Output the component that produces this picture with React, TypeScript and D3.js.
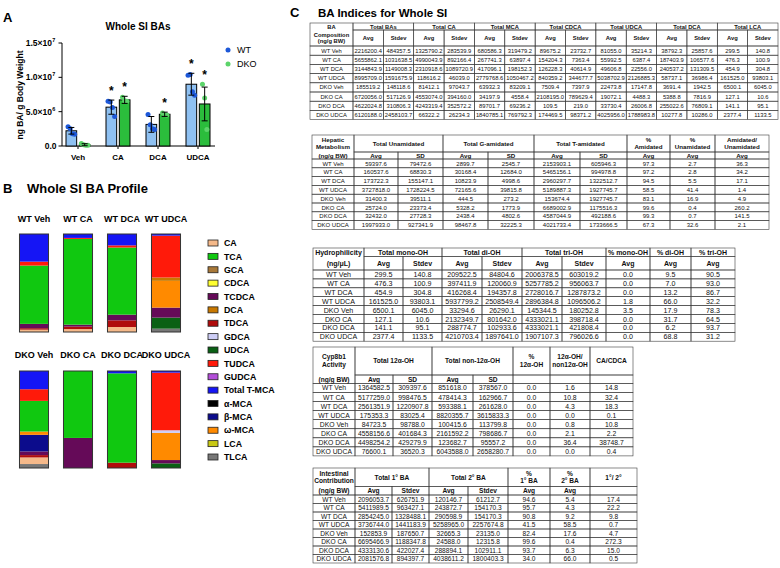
import React from "react";
import * as d3 from "d3";

const FONT = "'Liberation Sans', Arial, Helvetica, sans-serif";

// ---------------- Panel A data ----------------
const groupsA = ["Veh", "CA", "DCA", "UDCA"];
const seriesA = ["WT", "DKO"];
const wtMean = [2.216, 5.656, 3.145, 8.996]; // x1e6 ng/g
const wtSd = [0.484, 1.032, 1.149, 1.592];
const dkoMean = [0.186, 6.72, 4.622, 6.12];
const dkoSd = [0.148, 0.517, 0.311, 2.458];
const wtPts = [
  [2.8, 2.5, 1.8, 1.7],
  [6.5, 6.4, 5.6, 4.3],
  [4.6, 3.1, 2.5, 2.4],
  [10.3, 10.4, 7.9, 7.4],
];
const dkoPts = [
  [0.35, 0.2, 0.1, 0.1],
  [7.1, 6.6, 6.5],
  [4.8, 4.6, 4.5],
  [9.0, 7.0, 2.4],
];
const wtSig = [false, true, false, true];
const dkoSig = [false, true, true, true];
const yTicksA = [0, 5, 10, 15];
const yTickBase = ["0.0", "5.0×10", "1.0×10", "1.5×10"];
const yTickExp = ["", "6", "7", "7"];

// ---------------- Panel B data ----------------
const legendKeys = ["CA", "TCA", "GCA", "CDCA", "TCDCA", "DCA", "TDCA", "GDCA", "UDCA", "TUDCA", "GUDCA", "Total T-MCA", "α-MCA", "β-MCA", "ω-MCA", "LCA", "TLCA"];
const legendColors = ["#f5b98a", "#10c810", "#a87838", "#ffff30", "#650a58", "#c87800", "#b00c0c", "#cdcdf5", "#0a6014", "#ff1a0a", "#b24ed8", "#1515f5", "#000000", "#0c0c8c", "#ff8a00", "#c8c814", "#777777"];
const stackOrder = ["TLCA", "CA", "UDCA", "TDCA", "TCDCA", "β-MCA", "ω-MCA", "DCA", "GDCA", "TCA", "TUDCA", "Total T-MCA"];
const wtSamples = ["WT Veh", "WT CA", "WT DCA", "WT UDCA"];
const dkoSamples = ["DKO Veh", "DKO CA", "DKO DCA", "DKO UDCA"];
const wtProfile = [
  [0, 2.4, 0, 1.5, 4.4, 0, 0, 0, 0, 59.5, 4.0, 28.2],
  [0, 3.0, 0, 2.5, 2.0, 0, 0, 0, 0, 87.5, 1.0, 4.0],
  [0, 5.1, 0, 6.8, 5.8, 0, 0, 0, 0, 68.5, 2.2, 11.6],
  [3.4, 0, 11.3, 0, 10.2, 0, 27.3, 3.4, 0, 0, 42.7, 1.7],
];
const dkoProfile = [
  [4.1, 6.8, 0, 2.4, 3.8, 17.1, 3.4, 0, 0, 31.6, 12.0, 18.8],
  [0, 0, 0, 0, 31.0, 0, 0, 0, 0, 69.0, 0, 0],
  [0, 0, 0, 5.5, 0, 0, 0, 0, 0, 92.1, 0, 2.4],
  [0, 0, 4.8, 0, 3.4, 0, 28.0, 0, 2.7, 0, 59.4, 1.7],
];

// ---------------- Panel C data ----------------
const rowLabels = ["WT Veh", "WT CA", "WT DCA", "WT UDCA", "DKO Veh", "DKO CA", "DKO DCA", "DKO UDCA"];

const t1BAsAvg = ["2216200.4", "5655862.1", "3144843.9", "8995709.0", "185519.2", "6720056.0", "4622024.8", "6120188.0"];
const t1BAsSd = ["484357.5", "1031638.5", "1149008.3", "1591675.9", "148118.6", "517126.9", "310806.3", "2458103.7"];
const t1CAAvg = ["1325790.2", "4990043.9", "2310918.6", "118616.2", "81412.1", "4553074.0", "4243319.4", "66322.2"];
const t1CASd = ["283539.9", "892166.4", "1089720.9", "46039.0", "97043.7", "394160.0", "352572.2", "26234.3"];
const t1MCAAvg = ["680586.3", "267741.3", "417096.1", "2779768.6", "63932.3", "34197.9", "89701.7", "1840785.1"];
const t1MCASd = ["319479.2", "63897.4", "198152.3", "1050467.2", "83209.1", "4558.4", "69236.2", "769792.3"];
const t1CDCAAvg = ["89675.2", "154204.3", "126228.3", "840359.2", "7509.4", "2108195.0", "109.5", "174469.5"];
const t1CDCASd = ["23732.7", "7363.4", "40614.9", "344677.7", "7397.9", "789629.4", "219.0", "98371.2"];
const t1UDCAAvg = ["81055.0", "55992.5", "49606.8", "5038702.9", "22473.8", "19072.1", "33730.4", "4025956.0"];
const t1UDCASd = ["35214.3", "6387.4", "22556.0", "2126885.3", "17147.8", "4488.3", "26006.8", "1788983.8"];
const t1DCAAvg = ["38792.3", "187403.9", "240537.2", "58737.1", "3691.4", "5388.8", "255022.6", "10277.8"];
const t1DCASd = ["25857.6", "106577.6", "131309.5", "36986.4", "1942.5", "7816.9", "76809.1", "10286.0"];
const t1LCAAvg = ["299.5", "476.3", "454.9", "161525.0", "6500.1", "127.1", "141.1", "2377.4"];
const t1LCASd = ["140.8", "100.9", "304.8", "93803.1", "6045.0", "10.6", "95.1", "1133.5"];

const t2UnAvg = ["59397.6", "160537.6", "173722.3", "3727818.0", "31400.3", "25724.0", "32432.0", "1997933.0"];
const t2UnSd = ["79472.6", "68830.3", "155147.1", "1728224.5", "39511.1", "23373.4", "27728.3", "927341.9"];
const t2GAvg = ["2899.7", "30168.4", "10823.9", "72165.6", "444.5", "5328.2", "2438.4", "98467.8"];
const t2GSd = ["2545.7", "12684.0", "4998.6", "39815.8", "273.2", "1773.9", "4802.6", "32225.3"];
const t2TAvg = ["2153903.1", "5465156.1", "2960297.7", "5189887.3", "153674.4", "6689002.9", "4587044.9", "4021733.4"];
const t2TSd = ["605946.3", "994978.8", "1322512.7", "1927745.7", "1927745.7", "1175516.3", "492188.6", "1733666.5"];
const t2PctAm = ["97.3", "97.2", "94.5", "58.5", "83.1", "99.6", "99.3", "67.3"];
const t2PctUn = ["2.7", "2.8", "5.5", "41.4", "16.9", "0.4", "0.7", "32.6"];
const t2Ratio = ["36.3", "34.2", "17.1", "1.4", "4.9", "260.2", "141.5", "2.1"];

const t3MonoAvg = ["299.5", "476.3", "454.9", "161525.0", "6500.1", "127.1", "141.1", "2377.4"];
const t3MonoSd = ["140.8", "100.9", "304.8", "93803.1", "6045.0", "10.6", "95.1", "1133.5"];
const t3DiAvg = ["209522.5", "397411.9", "416268.4", "5937799.2", "33294.6", "2132349.7", "288774.7", "4210703.4"];
const t3DiSd = ["84804.6", "120060.9", "194357.8", "2508549.4", "26290.1", "801642.0", "102933.6", "1897641.0"];
const t3TriAvg = ["2006378.5", "5257785.2", "2728016.7", "2896384.8", "145344.5", "4333021.1", "4333021.1", "1907107.3"];
const t3TriSd = ["603019.2", "956063.7", "1287873.2", "1096506.2", "180252.8", "398718.4", "421808.4", "796026.6"];
const t3PctMono = ["0.0", "0.0", "0.0", "1.8", "3.5", "0.0", "0.0", "0.0"];
const t3PctDi = ["9.5", "7.0", "13.2", "66.0", "17.9", "31.7", "6.2", "68.8"];
const t3PctTri = ["90.5", "93.0", "86.7", "32.2", "78.3", "64.5", "93.7", "31.2"];

const t4TwAvg = ["1364582.5", "5177259.0", "2561351.9", "175353.3", "84723.5", "4558156.6", "4498254.2", "76600.1"];
const t4TwSd = ["309397.6", "998476.5", "1220907.8", "83025.4", "98788.0", "401684.3", "429279.9", "36520.3"];
const t4NonAvg = ["851618.0", "478414.3", "593388.1", "8820355.7", "100415.6", "2161592.2", "123682.7", "6043588.0"];
const t4NonSd = ["378567.0", "162966.7", "261628.0", "3615833.3", "113799.8", "798686.7", "95557.2", "2658280.7"];
const t4Pct = ["0.0", "0.0", "0.0", "0.0", "0.0", "0.0", "0.0", "0.0"];
const t4Ratio = ["1.6", "10.8", "4.3", "0.0", "0.8", "2.1", "36.4", "0.0"];
const t4CaCdca = ["14.8", "32.4", "18.3", "0.1", "10.8", "2.2", "38748.7", "0.4"];

const t5PriAvg = ["2096053.7", "5411989.5", "2854245.0", "3736744.0", "152853.9", "6695466.9", "4333130.6", "2081576.8"];
const t5PriSd = ["626751.9", "963427.1", "1328488.1", "1441183.9", "187650.7", "1188347.8", "422027.4", "894397.7"];
const t5SecAvg = ["120146.7", "243872.7", "290598.9", "5258965.0", "32665.3", "24588.0", "288894.1", "4038611.2"];
const t5SecSd = ["61212.7", "154170.3", "154170.3", "2257674.8", "23135.0", "12315.8", "102911.1", "1800403.3"];
const t5PctPri = ["94.6", "95.7", "90.8", "41.5", "82.4", "99.6", "93.7", "34.0"];
const t5PctSec = ["5.4", "4.3", "9.2", "58.5", "17.6", "0.4", "6.3", "66.0"];
const t5Ratio = ["17.4", "22.2", "9.8", "0.7", "4.7", "272.3", "15.0", "0.5"];

// ---------------- Table component ----------------
type Group = { label: string[]; span: number };
type TableCfg = {
  edges: number[]; top: number; h1: number; h2: number; rowH: number;
  fs: number; hfs: number;
  firstTop: string[]; firstSub: string[];
  groups: Group[]; subs: string[]; cols: string[][];
};

const STROKE = "#3c3c3c";

function Lines({ lines, cx, cy, fs, bold }: { lines: string[]; cx: number; cy: number; fs: number; bold?: boolean }) {
  const lh = fs * 1.17;
  return (
    <>
      {lines.map((t, i) => (
        <text key={i} x={cx} y={cy + (i - (lines.length - 1) / 2) * lh} dy="0.35em" textAnchor="middle"
          fontSize={fs} fontWeight={bold ? 700 : 400} fill="#111">{t}</text>
      ))}
    </>
  );
}

function Table({ cfg }: { cfg: TableCfg }) {
  const { edges, top, h1, h2, rowH, fs, hfs, firstTop, firstSub, groups, subs, cols } = cfg;
  const hdrB = top + h1 + h2;
  const yRow = d3.scaleBand<number>().domain(d3.range(rowLabels.length)).range([hdrB, hdrB + rowLabels.length * rowH]);
  const cells: React.ReactNode[] = [];
  // first column header
  cells.push(<rect key="fh" x={edges[0]} y={top} width={edges[1] - edges[0]} height={h1 + h2} fill="none" stroke={STROKE} strokeWidth={0.6} />);
  cells.push(<Lines key="fht" lines={firstTop} cx={(edges[0] + edges[1]) / 2} cy={top + h1 / 2} fs={hfs} bold />);
  cells.push(<Lines key="fhs" lines={firstSub} cx={(edges[0] + edges[1]) / 2} cy={top + h1 + h2 / 2} fs={hfs} bold />);
  let c = 1;
  groups.forEach((g, gi) => {
    const x0 = edges[c], x1 = edges[c + g.span];
    cells.push(<rect key={"g" + gi} x={x0} y={top} width={x1 - x0} height={h1} fill="none" stroke={STROKE} strokeWidth={0.6} />);
    cells.push(<Lines key={"gt" + gi} lines={g.label} cx={(x0 + x1) / 2} cy={top + h1 / 2} fs={hfs} bold />);
    c += g.span;
  });
  subs.forEach((s, si) => {
    const x0 = edges[si + 1], x1 = edges[si + 2];
    cells.push(<rect key={"s" + si} x={x0} y={top + h1} width={x1 - x0} height={h2} fill="none" stroke={STROKE} strokeWidth={0.6} />);
    if (s) cells.push(<Lines key={"st" + si} lines={[s]} cx={(x0 + x1) / 2} cy={top + h1 + h2 / 2} fs={hfs} bold />);
  });
  rowLabels.forEach((lab, r) => {
    const y = yRow(r) as number;
    const vals = [lab, ...cols.map((col) => col[r])];
    vals.forEach((v, ci) => {
      const x0 = edges[ci], x1 = edges[ci + 1];
      cells.push(<rect key={`c${r}-${ci}`} x={x0} y={y} width={x1 - x0} height={rowH} fill="none" stroke={STROKE} strokeWidth={0.6} />);
      cells.push(<text key={`t${r}-${ci}`} x={(x0 + x1) / 2} y={y + rowH / 2} dy="0.36em" textAnchor="middle" fontSize={fs} fill="#111">{v}</text>);
    });
  });
  return <g>{cells}</g>;
}

const t1Edges = [310, ...d3.range(15).map((i) => 353 + i * ((778 - 353) / 14))];

const tables: TableCfg[] = [
  {
    edges: t1Edges, top: 23, h1: 7, h2: 16, rowH: 9.2, fs: 5.8, hfs: 5.8,
    firstTop: ["BA"], firstSub: ["Composition", "(ng/g BW)"],
    groups: ["Total BAs", "Total CA", "Total MCA", "Total CDCA", "Total UDCA", "Total DCA", "Total LCA"].map((l) => ({ label: [l], span: 2 })),
    subs: d3.range(7).flatMap(() => ["Avg", "Stdev"]),
    cols: [t1BAsAvg, t1BAsSd, t1CAAvg, t1CASd, t1MCAAvg, t1MCASd, t1CDCAAvg, t1CDCASd, t1UDCAAvg, t1UDCASd, t1DCAAvg, t1DCASd, t1LCAAvg, t1LCASd],
  },
  {
    edges: [312, 354, 398, 443, 488, 534, 580, 627, 670, 715, 769], top: 135, h1: 17, h2: 7, rowH: 8.8, fs: 6, hfs: 6.2,
    firstTop: ["Hepatic", "Metabolism"], firstSub: ["(ng/g BW)"],
    groups: [
      { label: ["Total Unamidated"], span: 2 }, { label: ["Total G-amidated"], span: 2 }, { label: ["Total T-amidated"], span: 2 },
      { label: ["%", "Amidated"], span: 1 }, { label: ["%", "Unamidated"], span: 1 }, { label: ["Amidated/", "Unamidated"], span: 1 },
    ],
    subs: ["Avg", "SD", "Avg", "SD", "Avg", "SD", "Avg", "Avg", "Avg"],
    cols: [t2UnAvg, t2UnSd, t2GAvg, t2GSd, t2TAvg, t2TSd, t2PctAm, t2PctUn, t2Ratio],
  },
  {
    edges: [313, 364, 403, 442, 482, 522, 562, 606, 650, 691, 735], top: 248, h1: 8.5, h2: 13.5, rowH: 8.9, fs: 7.1, hfs: 7,
    firstTop: ["Hydrophilicity"], firstSub: ["(ng/μL)"],
    groups: [
      { label: ["Total mono-OH"], span: 2 }, { label: ["Total di-OH"], span: 2 }, { label: ["Total tri-OH"], span: 2 },
      { label: ["% mono-OH"], span: 1 }, { label: ["% di-OH"], span: 1 }, { label: ["% tri-OH"], span: 1 },
    ],
    subs: ["Avg", "Stdev", "Avg", "Stdev", "Avg", "Stdev", "Avg", "Avg", "Avg"],
    cols: [t3MonoAvg, t3MonoSd, t3DiAvg, t3DiSd, t3TriAvg, t3TriSd, t3PctMono, t3PctDi, t3PctTri],
  },
  {
    edges: [313, 355, 393, 432, 473, 513, 550, 590, 633], top: 347, h1: 28, h2: 8.5, rowH: 9.05, fs: 6.8, hfs: 6.6,
    firstTop: ["Cyp8b1", "Activity"], firstSub: ["(ng/g BW)"],
    groups: [
      { label: ["Total 12α-OH"], span: 2 }, { label: ["Total non-12α-OH"], span: 2 },
      { label: ["%", "12α-OH"], span: 1 }, { label: ["12α-OH/", "non12α-OH"], span: 1 }, { label: ["CA/CDCA"], span: 1 },
    ],
    subs: ["Avg", "SD", "Avg", "SD", "", "", ""],
    cols: [t4TwAvg, t4TwSd, t4NonAvg, t4NonSd, t4Pct, t4Ratio, t4CaCdca],
  },
  {
    edges: [313, 355, 392, 429, 468, 508, 550, 590, 637], top: 468, h1: 18.5, h2: 8.5, rowH: 8.5, fs: 6.6, hfs: 6.6,
    firstTop: ["Intestinal", "Contribution"], firstSub: ["(ng/g BW)"],
    groups: [
      { label: ["Total 1° BA"], span: 2 }, { label: ["Total 2° BA"], span: 2 },
      { label: ["%", "1° BA"], span: 1 }, { label: ["%", "2° BA"], span: 1 }, { label: ["1°/ 2°"], span: 1 },
    ],
    subs: ["Avg", "Stdev", "Avg", "Stdev", "Avg", "Avg", ""],
    cols: [t5PriAvg, t5PriSd, t5SecAvg, t5SecSd, t5PctPri, t5PctSec, t5Ratio],
  },
];

// ---------------- Panel A ----------------
function PanelA() {
  const y = d3.scaleLinear().domain([0, 15]).range([146, 43]);
  const x = d3.scaleBand<string>().domain(groupsA).range([58, 218]);
  const xs = d3.scaleBand<string>().domain(seriesA).range([8, 32]).paddingInner(0.2);
  const bw = xs.bandwidth();
  const series = [
    { key: "WT", mean: wtMean, sd: wtSd, pts: wtPts, sig: wtSig, fill: "#8fc1f2", dot: "#1d58d8" },
    { key: "DKO", mean: dkoMean, sd: dkoSd, pts: dkoPts, sig: dkoSig, fill: "#2bbd3c", dot: "#5cd46a" },
  ];
  return (
    <g>
      <text x={3} y={21.5} fontSize={13} fontWeight={700}>A</text>
      <text x={138} y={29.5} fontSize={10} fontWeight={700} textAnchor="middle">Whole SI BAs</text>
      <text transform="translate(23,95) rotate(-90)" fontSize={8.5} fontWeight={700} textAnchor="middle">ng BA/ g Body Weight</text>
      {/* y axis */}
      <line x1={62} x2={62} y1={y(15)} y2={y(0)} stroke="#000" strokeWidth={1} />
      {yTicksA.map((t, i) => (
        <g key={t}>
          <line x1={58.5} x2={62} y1={y(t)} y2={y(t)} stroke="#000" strokeWidth={1} />
          <text x={yTickExp[i] ? 52 : 56.5} y={y(t) + 3} fontSize={8.5} fontWeight={700} textAnchor="end">{yTickBase[i]}</text>
          {yTickExp[i] && <text x={52.3} y={y(t) - 1} fontSize={5.5} fontWeight={700}>{yTickExp[i]}</text>}
        </g>
      ))}
      {/* x axis */}
      <line x1={62} x2={215} y1={y(0)} y2={y(0)} stroke="#000" strokeWidth={1} />
      {groupsA.map((g) => (
        <g key={g}>
          <line x1={(x(g) as number) + 20} x2={(x(g) as number) + 20} y1={y(0)} y2={y(0) + 3} stroke="#000" strokeWidth={1} />
          <text x={(x(g) as number) + 20} y={160} fontSize={8} fontWeight={700} textAnchor="middle">{g}</text>
        </g>
      ))}
      {series.map((s) =>
        groupsA.map((g, gi) => {
          const bx = (x(g) as number) + (xs(s.key) as number);
          const cx = bx + bw / 2;
          const m = s.mean[gi], sd = s.sd[gi];
          const pts = s.pts[gi];
          const topV = Math.max(m + sd, d3.max(pts) as number);
          return (
            <g key={s.key + g}>
              <rect x={bx} y={y(m)} width={bw} height={y(0) - y(m)} fill={s.fill} stroke="#000" strokeWidth={1} />
              {pts.map((p, i) => (
                <circle key={i} cx={cx + (i - (pts.length - 1) / 2) * 2.2} cy={y(p)} r={2.5} fill={s.dot} />
              ))}
              <line x1={cx} x2={cx} y1={y(Math.max(0, m - sd))} y2={y(m + sd)} stroke="#000" strokeWidth={1} />
              <line x1={cx - 3} x2={cx + 3} y1={y(m + sd)} y2={y(m + sd)} stroke="#000" strokeWidth={1} />
              <line x1={cx - 3} x2={cx + 3} y1={y(Math.max(0, m - sd))} y2={y(Math.max(0, m - sd))} stroke="#000" strokeWidth={1} />
              {s.sig[gi] && <text x={cx} y={y(topV) - 5} fontSize={12} fontWeight={700} textAnchor="middle">*</text>}
            </g>
          );
        })
      )}
      {series.map((s, i) => (
        <g key={s.key}>
          <circle cx={228} cy={50 + i * 14} r={2.5} fill={s.dot} />
          <text x={237} y={53.2 + i * 14} fontSize={9}>{s.key}</text>
        </g>
      ))}
    </g>
  );
}

// ---------------- Panel B ----------------
function StackRow({ samples, profile, top, bottom, labelY }: { samples: string[]; profile: number[][]; top: number; bottom: number; labelY: number }) {
  const x = d3.scaleBand<string>().domain(samples).range([12, 188]).paddingInner(0.34).paddingOuter(0.17);
  const y = d3.scaleLinear().domain([0, 100]).range([bottom, top]);
  const colorOf = (k: string) => legendColors[legendKeys.indexOf(k)];
  const rows = samples.map((s, i) => {
    const o: Record<string, number | string> = { sample: s };
    stackOrder.forEach((k, j) => (o[k] = profile[i][j]));
    return o;
  });
  const stacked = d3.stack<any>().keys(stackOrder)(rows);
  return (
    <g>
      {samples.map((s) => (
        <text key={s} x={(x(s) as number) + x.bandwidth() / 2} y={labelY} fontSize={9} fontWeight={700} textAnchor="middle">{s}</text>
      ))}
      {stacked.map((layer) => (
        <g key={layer.key}>
          {layer.map((d, i) =>
            d[1] - d[0] > 0 ? (
              <rect key={i} x={x(samples[i])} y={y(d[1])} width={x.bandwidth()} height={y(d[0]) - y(d[1])} fill={colorOf(layer.key)} />
            ) : null
          )}
        </g>
      ))}
      {samples.map((s) => (
        <rect key={"o" + s} x={x(s)} y={y(100)} width={x.bandwidth()} height={y(0) - y(100)} fill="none" stroke="#333" strokeWidth={1} />
      ))}
    </g>
  );
}

function PanelB() {
  const ly = d3.scalePoint<string>().domain(legendKeys).range([243, 457]);
  return (
    <g>
      <text x={3} y={193} fontSize={13} fontWeight={700}>B</text>
      <text x={27} y={193} fontSize={13} fontWeight={700}>Whole SI BA Profile</text>
      <StackRow samples={wtSamples} profile={wtProfile} top={234} bottom={332} labelY={222} />
      <StackRow samples={dkoSamples} profile={dkoProfile} top={371} bottom={468} labelY={358} />
      {legendKeys.map((k, i) => (
        <g key={k}>
          <rect x={208} y={(ly(k) as number) - 3} width={10} height={6} fill={legendColors[i]} stroke="#222" strokeWidth={0.8} />
          <text x={224} y={(ly(k) as number) + 3.2} fontSize={8.8} fontWeight={700}>{k}</text>
        </g>
      ))}
    </g>
  );
}

function PanelC() {
  return (
    <g>
      <text x={290} y={17} fontSize={13} fontWeight={700}>C</text>
      <text x={318} y={17} fontSize={11.5} fontWeight={700}>BA Indices for Whole SI</text>
      {tables.map((t, i) => <Table key={i} cfg={t} />)}
    </g>
  );
}

export default function App() {
  return (
    <svg width={780} height={568} style={{ position: "absolute", left: 0, top: 0, background: "#fff" }} fontFamily={FONT}>
      <rect width={780} height={568} fill="#fff" />
      <PanelA />
      <PanelB />
      <PanelC />
    </svg>
  );
}
